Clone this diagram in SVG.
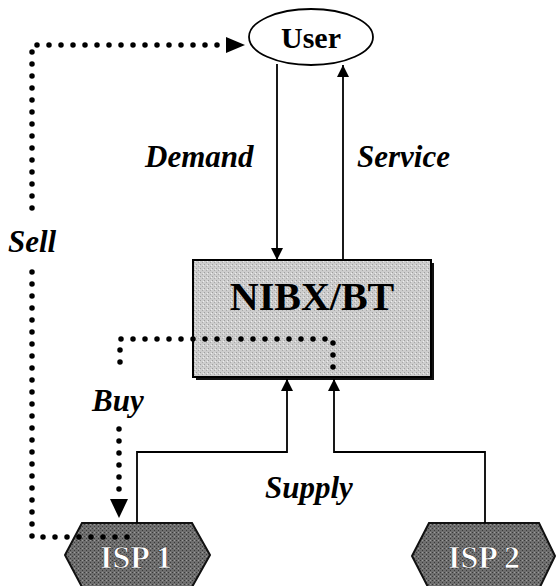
<svg xmlns="http://www.w3.org/2000/svg" width="556" height="586" viewBox="0 0 556 586">
<defs>
<marker id="ah" markerWidth="12" markerHeight="14" refX="12" refY="7" orient="auto" markerUnits="userSpaceOnUse" viewBox="0 0 12 14">
<path d="M0,1 L12,7 L0,13 Z" fill="#000"/>
</marker>
<pattern id="tex" width="4" height="4" patternUnits="userSpaceOnUse">
<rect width="4" height="4" fill="#6e6e6e"/>
<rect width="1" height="1" fill="#3a3a3a"/>
<rect x="2" y="2" width="1" height="1" fill="#3a3a3a"/>
<rect x="2" y="0" width="1" height="1" fill="#9a9a9a"/>
</pattern>
<pattern id="tex2" width="4" height="4" patternUnits="userSpaceOnUse">
<rect width="4" height="4" fill="#cdcdcd"/>
<rect width="1" height="1" fill="#9e9e9e"/>
<rect x="2" y="2" width="1" height="1" fill="#a8a8a8"/>
<rect x="3" y="1" width="1" height="1" fill="#eeeeee"/>
</pattern>
</defs>
<style>
.ln{fill:none;stroke:#000;stroke-width:1.8}
.dot{fill:none;stroke:#000;stroke-width:5.5;stroke-linecap:round;stroke-dasharray:0 12}
.lbl{font-family:"Liberation Serif",serif;font-weight:bold;font-style:italic;font-size:31px;fill:#000}
.hex{fill:url(#tex);stroke:#111;stroke-width:2}
.isp{font-family:"Liberation Serif",serif;font-weight:bold;font-size:32px;fill:#fff;stroke:#333;stroke-width:0.6;text-anchor:middle}
</style>
<g id="user">
<ellipse cx="311" cy="37" rx="62" ry="28" fill="#fff" stroke="#000" stroke-width="1.8"/>
<text x="311" y="48" font-family="'Liberation Serif',serif" font-weight="bold" font-size="30" text-anchor="middle">User</text>
</g>
<g id="nibx">
<rect x="196" y="263" width="238" height="117" fill="#111"/>
<rect x="193" y="260" width="238" height="117" fill="url(#tex2)" stroke="#000" stroke-width="2"/>
<text x="312" y="310" font-family="'Liberation Serif',serif" font-weight="bold" font-size="40" text-anchor="middle" fill="#000">NIBX/BT</text>
</g>
<g id="isp1">
<polygon class="hex" points="82,523 192,523 210,555 192,587 82,587 65,555"/>
<text class="isp" x="136" y="568">ISP 1</text>
</g>
<g id="isp2">
<polygon class="hex" points="429,523 539,523 555,556 539,589 429,589 412,556"/>
<text class="isp" x="484" y="568">ISP 2</text>
</g>
<g id="connectors">
<path class="dot" d="M127,537 H32 V270"/>
<path class="dot" d="M32,208 V45 H228"/>
<path d="M226,37 L245,45 L226,53 Z" fill="#000"/>
<path class="dot" d="M333,367 V339 H120 V372"/>
<path class="dot" d="M119,429 V493"/>
<path d="M110,499 L128,499 L119,518 Z" fill="#000"/>
<path class="ln" d="M277,64 V260" marker-end="url(#ah)"/>
<path class="ln" d="M343,260 V65" marker-end="url(#ah)"/>
<path class="ln" d="M137,523 V452 H287 V379" marker-end="url(#ah)"/>
<path class="ln" d="M485,523 V452 H334 V379" marker-end="url(#ah)"/>
<text class="lbl" x="145" y="167">Demand</text>
<text class="lbl" x="357" y="167">Service</text>
<text class="lbl" x="8" y="252">Sell</text>
<text class="lbl" x="92" y="411">Buy</text>
<text class="lbl" x="265" y="498">Supply</text>
</g>
</svg>
